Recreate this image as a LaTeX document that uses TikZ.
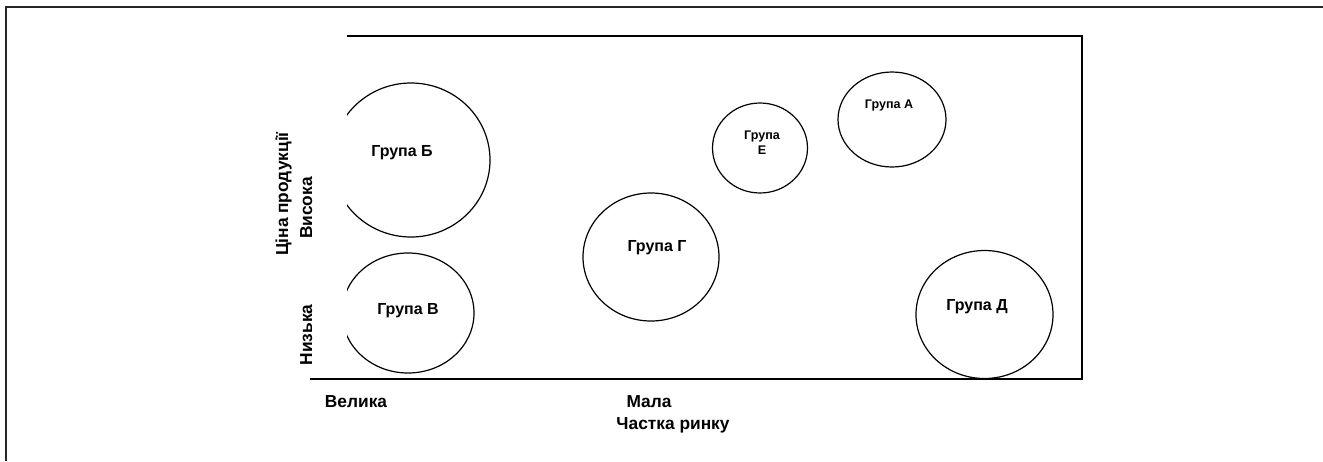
\documentclass[tikz,border=0pt]{standalone}
\usepackage{fontspec}
\setmainfont{Liberation Sans}
\tikzset{
  frameline/.style={line width=2pt, draw=black!85},
  axisline/.style={line width=0.9pt, draw=black},
  gtext/.style={font=\bfseries\fontsize{12pt}{13pt}\selectfont, anchor=base, inner sep=0pt},
  stext/.style={font=\bfseries\fontsize{9.4pt}{10.5pt}\selectfont, anchor=base, inner sep=0pt, align=center},
  ltext/.style={font=\bfseries\fontsize{13pt}{14pt}\selectfont, anchor=base, inner sep=0pt},
}
\begin{document}
\begin{tikzpicture}[x=0.75pt, y=-0.75pt]
\useasboundingbox (0,0) rectangle (1323,461);
% outer frame (only top and left visible)
\coordinate (f1) at (6,461);
\coordinate (f2) at (6,7);
\coordinate (f3) at (1323,7);
\draw[frameline] (f1) -- (f2) -- (f3);
% chart frame
\coordinate (t1) at (347,36);
\coordinate (tr) at (1082,36);
\coordinate (br) at (1082,379);
\coordinate (b1) at (310,379);
\draw[axisline] (t1) -- (tr) -- (br) -- (b1);
% groups clipped at the left edge
\begin{scope}
\clip (347,40) rectangle (600,378);
\draw[axisline] (411,160) ellipse [x radius=79, y radius=77];
\draw[axisline] (408,313) ellipse [x radius=66, y radius=60];
\end{scope}
\draw[axisline] (651,257) ellipse [x radius=68, y radius=64];
\draw[axisline] (760,148) ellipse [x radius=47.5, y radius=45];
\draw[axisline] (892,119.5) ellipse [x radius=54, y radius=47.5];
\draw[axisline] (984.5,314.5) ellipse [x radius=68.5, y radius=64];
% group labels
\node[gtext] (gB) at (402,156) {Група Б};
\node[gtext] (gV) at (408,314) {Група В};
\node[gtext] (gG) at (657,251) {Група Г};
\node[stext] (gE1) at (762,139) {Група};
\node[stext] (gE2) at (762,154) {Е};
\node[stext] (gA) at (889,108) {Група А};
\node[gtext] (gD) at (977,310) {Група Д};
% axis labels
\node[ltext, rotate=90] (price) at (288,194) {Ціна продукції};
\node[ltext, rotate=90] (high) at (312,208) {Висока};
\node[ltext, rotate=90] (low) at (312,335) {Низька};
\node[ltext] (big) at (356,407) {Велика};
\node[ltext] (small) at (649,407) {Мала};
\node[ltext] (share) at (673,429) {Частка ринку};
\end{tikzpicture}
\end{document}
